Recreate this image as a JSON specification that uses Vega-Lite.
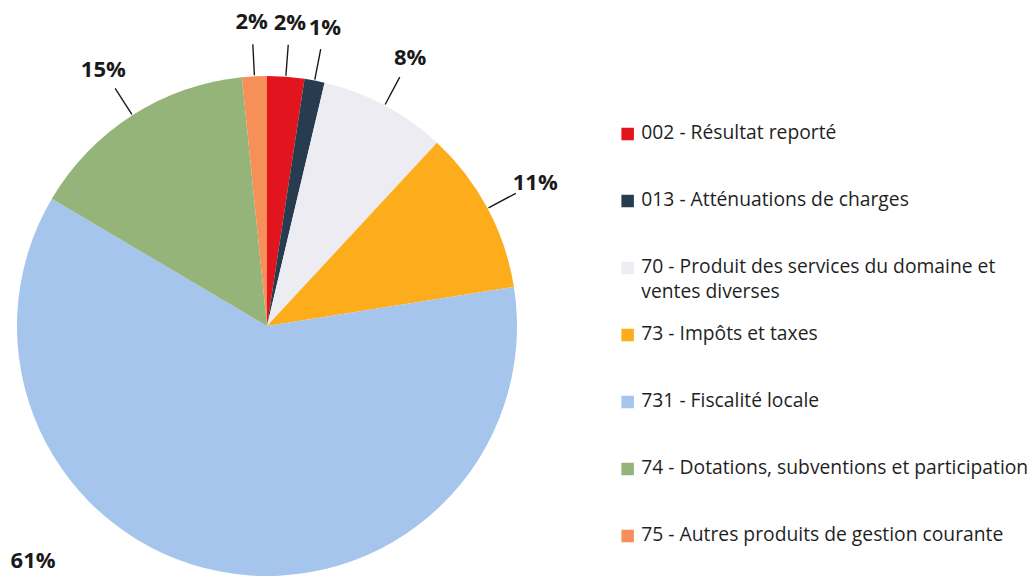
{
  "$schema": "https://vega.github.io/schema/vega-lite/v6.json",
  "width": 500,
  "height": 500,
  "autosize": {"type": "none"},
  "padding": {"left": 17, "top": 76, "right": 519, "bottom": 4},
  "background": "white",
  "config": {"view": {"stroke": null}, "font": "Open Sans"},
  "data": {
    "values": [
      {"category": "002 - Résultat reporté", "value": 0.024},
      {"category": "013 - Atténuations de charges", "value": 0.013},
      {"category": "70 - Produit des services du domaine et ventes diverses", "value": 0.082},
      {"category": "73 - Impôts et taxes", "value": 0.106},
      {"category": "731 - Fiscalité locale", "value": 0.61},
      {"category": "74 - Dotations, subventions et participation", "value": 0.149},
      {"category": "75 - Autres produits de gestion courante", "value": 0.016}
    ]
  },
  "encoding": {
    "theta": {"field": "value", "type": "quantitative", "stack": true},
    "order": {"field": "category", "type": "ordinal", "sort": "ascending"}
  },
  "layer": [
    {
      "mark": {"type": "arc", "outerRadius": 250},
      "encoding": {
        "color": {
          "field": "category",
          "type": "nominal",
          "scale": {
            "domain": [
              "002 - Résultat reporté",
              "013 - Atténuations de charges",
              "70 - Produit des services du domaine et ventes diverses",
              "73 - Impôts et taxes",
              "731 - Fiscalité locale",
              "74 - Dotations, subventions et participation",
              "75 - Autres produits de gestion courante"
            ],
            "range": ["#E2151F", "#283C50", "#EDECF3", "#FDAD1C", "#A5C5EC", "#94B479", "#F78F58"]
          },
          "legend": {
            "orient": "none",
            "legendX": 601,
            "legendY": 48,
            "title": null,
            "padding": 0,
            "symbolType": "square",
            "symbolSize": 156,
            "symbolStrokeWidth": 0,
            "labelFont": "Open Sans",
            "labelFontSize": 19.3,
            "labelColor": "#1f1f1f",
            "labelOffset": 4,
            "labelLimit": 600,
            "clipHeight": 20,
            "gridAlign": "all",
            "rowPadding": 22,
            "labelBaseline": "top",
            "labelExpr": "indexof(datum.label, ' et ventes') > 0 ? [slice(datum.label, 0, indexof(datum.label, ' et ventes') + 3), slice(datum.label, indexof(datum.label, ' et ventes') + 4)] : datum.label",
            "encode": {"labels": {"update": {"dy": {"value": -10}, "lineHeight": {"value": 25}}}}
          }
        }
      }
    },
    {
      "mark": {
        "type": "arc",
        "outerRadius": 282,
        "innerRadius": 251,
        "padAngle": 3,
        "filled": false,
        "stroke": "#1a1a1a",
        "strokeWidth": 1.4,
        "strokeOpacity": {"expr": "datum.value > 0.5 ? 0 : 1"}
      },
      "encoding": {
        "detail": {"field": "category", "type": "nominal"}
      }
    },
    {
      "mark": {
        "type": "text",
        "radius": 304,
        "fontSize": 22,
        "fontWeight": "bold",
        "font": "Open Sans",
        "color": "#1a1a1a",
        "dx": {"expr": "datum.value > 0.5 ? -177 : 0"},
        "dy": {"expr": "datum.value > 0.5 ? -64 : 0"}
      },
      "encoding": {
        "detail": {"field": "category", "type": "nominal"},
        "text": {"field": "value", "type": "quantitative", "format": ".0%"}
      }
    }
  ]
}
